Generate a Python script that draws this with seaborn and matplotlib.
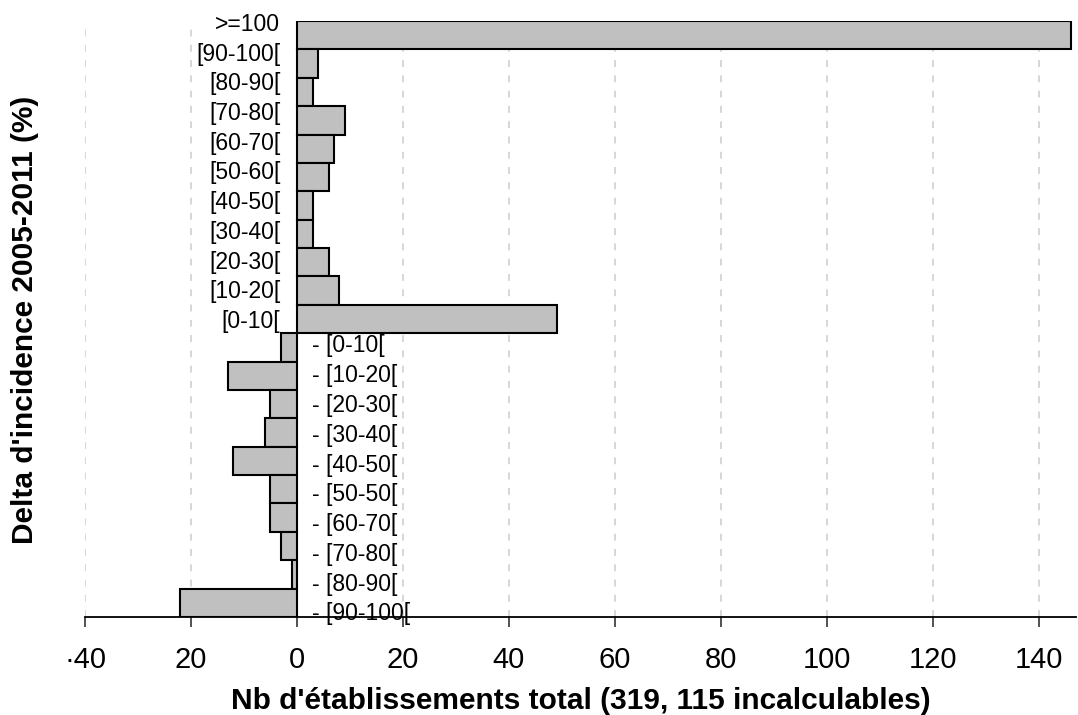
import matplotlib
matplotlib.use("Agg")
import matplotlib.pyplot as plt
import seaborn as sns
import pandas as pd

# === DATA ===
categories = [">=100", "[90-100[", "[80-90[", "[70-80[", "[60-70[", "[50-60[",
              "[40-50[", "[30-40[", "[20-30[", "[10-20[", "[0-10[",
              "- [0-10[", "- [10-20[", "- [20-30[", "- [30-40[", "- [40-50[",
              "- [50-50[", "- [60-70[", "- [70-80[", "- [80-90[", "- [90-100["]
counts = [146, 4, 3, 9, 7, 6, 3, 3, 6, 8, 49,
          -3, -13, -5, -6, -12, -5, -5, -3, -1, -22]
xtick_values = [-40, -20, 0, 20, 40, 60, 80, 100, 120, 140]
xtick_labels = ["·40", "20", "0", "20", "40", "60", "80", "100", "120", "140"]

df = pd.DataFrame({"cat": categories, "n": counts})

# === STYLE ===
sns.set_theme(style="white")
plt.rcParams["font.family"] = ["Liberation Sans", "DejaVu Sans"]

fig = plt.figure(figsize=(10.78, 7.15), dpi=100)
ax = fig.add_axes([85 / 1078, 1 - 617 / 715, (1076 - 85) / 1078, (617 - 21) / 715])

sns.barplot(data=df, x="n", y="cat", orient="h", width=1, color="#c0c0c0",
            saturation=1, edgecolor="black", linewidth=1.5, ax=ax, zorder=3)

ax.set_xlim(-40, 147)
ax.set_ylim(len(categories) - 0.5, -0.5)

# dashed vertical gridlines, solid zero axis
for v in xtick_values:
    if v != 0:
        ax.axvline(v, color="#cccccc", lw=1.1, ls=(0, (4.5, 5.5)), zorder=1)
ax.axvline(0, color="black", lw=1.3, zorder=4)

# category labels next to the zero axis (Excel spreads them slightly wider than the bars)
n_pos = sum(1 for n in counts if n >= 0)
for i, (c, n) in enumerate(zip(categories, counts)):
    if n >= 0:
        y = -0.38 + 1.047 * i
        ax.annotate(c, (0, y), xytext=(-12, 0), textcoords="offset points",
                    ha="right", va="center", fontsize=16.5, color="black")
    else:
        y = 10.95 + 1.049 * (i - n_pos)
        ax.annotate(c, (0, y), xytext=(11, 0), textcoords="offset points",
                    ha="left", va="center", fontsize=16.5, color="black")

ax.set_xticks(xtick_values)
ax.set_xticklabels(xtick_labels, fontsize=21)
ax.tick_params(axis="x", direction="out", length=7, width=1.2, color="#333333",
               pad=14, bottom=True, labelcolor="black")
ax.tick_params(axis="y", left=False, labelleft=False)

for s in ["top", "right", "left"]:
    ax.spines[s].set_visible(False)
ax.spines["bottom"].set_color("black")
ax.spines["bottom"].set_linewidth(1.3)

ax.set_xlabel("Nb d'établissements total (319, 115 incalculables)",
              fontsize=21.5, fontweight="bold", labelpad=9, color="black")
ax.set_ylabel("")
fig.text(25 / 1078, 1 - 320 / 715, "Delta d'incidence 2005-2011 (%)", rotation=90,
         ha="center", va="center", fontsize=21.5, fontweight="bold", color="black")

fig.savefig("out.png", dpi=100)
